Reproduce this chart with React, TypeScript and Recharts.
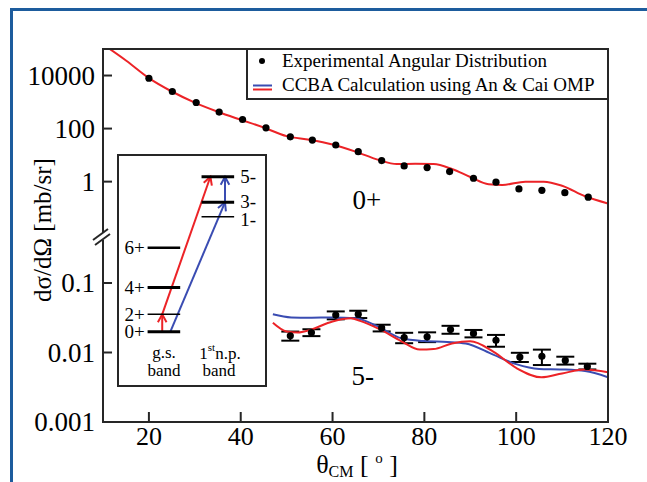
import React from 'react';
import {
  ComposedChart,
  Line,
  Scatter,
  XAxis,
  YAxis,
  ErrorBar,
  ReferenceDot,
  ReferenceLine,
} from 'recharts';

// 0+ (elastic) angular distribution
const zeroPlusAngles = [20, 25.1, 30.3, 35.3, 40.4, 45.5, 50.8, 55.6, 60.7, 65.6, 70.7, 75.6, 80.6, 85.5, 90.7, 95.6, 100.6, 105.6, 110.6, 115.7];
const zeroPlusExp = [7900, 2500, 960, 420, 220, 107, 49, 37, 24, 13.5, 6.2, 3.9, 3.4, 2.4, 1.34, 0.95, 0.53, 0.47, 0.385, 0.26];
const zeroPlusCalcAngles = [10, 15, 20, 25, 30, 35, 40, 45, 50, 55, 60, 65, 70, 74, 78, 82, 86, 90, 94, 97, 102, 106, 110, 115, 120];
const zeroPlusCalc = [150000, 37000, 8000, 2500, 950, 430, 215, 110, 52, 38, 25, 13.5, 6.6, 4.6, 4.7, 4.6, 3.0, 1.5, 0.8, 0.75, 1.0, 1.0, 0.7, 0.28, 0.15];

// 5- angular distribution
const fiveMinusAngles = [50.8, 55.4, 60.7, 65.6, 70.7, 75.6, 80.6, 85.7, 90.7, 95.6, 100.8, 105.6, 110.7, 115.5];
const fiveMinusExp = [0.0174, 0.0194, 0.0345, 0.0356, 0.0226, 0.0164, 0.0168, 0.0214, 0.0188, 0.015, 0.0086, 0.0088, 0.0077, 0.0063];
const fiveMinusErr = [0.0026, 0.0022, 0.0045, 0.0043, 0.0025, 0.0028, 0.0027, 0.0028, 0.0023, 0.0029, 0.0013, 0.0022, 0.001, 0.0006];
const fiveMinusBlueAngles = [47, 51, 55, 60, 65, 70, 75, 80, 85, 89, 95, 100, 105, 110, 115, 120];
const fiveMinusBlue = [0.0355, 0.032, 0.0317, 0.032, 0.031, 0.0235, 0.016, 0.0146, 0.0142, 0.0135, 0.0093, 0.0068, 0.0058, 0.0057, 0.0054, 0.0044];
const fiveMinusRedAngles = [47, 50, 52.5, 55, 60, 64, 66, 70, 75, 79, 82, 86, 90, 95, 100, 105.5, 110, 115, 120];
const fiveMinusRed = [0.0267, 0.02, 0.0194, 0.021, 0.028, 0.031, 0.0285, 0.022, 0.0145, 0.011, 0.0112, 0.0135, 0.0145, 0.0103, 0.006, 0.0044, 0.005, 0.0057, 0.0052];

const xTicks = [20, 40, 60, 80, 100, 120];
const upperTicks = [1, 100, 10000];
const lowerTicks = [0.001, 0.01, 0.1];

// level scheme for the inset (arbitrary energy units)
const gsLevels = ['0+', '2+', '4+', '6+'];
const gsEnergies = [0, 0.112, 0.286, 0.542];
const npLevels = ['1-', '3-', '5-'];
const npEnergies = [0.742, 0.835, 1.0];

const SERIF = '"Liberation Serif", "Times New Roman", serif';
const RED = '#ec2327';
const BLUE = '#3a4cb2';
const FRAME = '#262626';
const PAGE_BLUE = '#1d5c9d';

const TOP = 49;
const BREAK = 238;
const BOTTOM = 422;

const GS_X = 0.3075;
const NP_X = 0.677;

const zeroPlusPoints = zeroPlusAngles.map((x, i) => ({ x, y: zeroPlusExp[i] }));
const zeroPlusCurve = zeroPlusCalcAngles.map((x, i) => ({ x, y: zeroPlusCalc[i] }));
const fiveMinusPoints = fiveMinusAngles.map((x, i) => ({ x, y: fiveMinusExp[i], err: fiveMinusErr[i] }));
const fiveMinusBlueCurve = fiveMinusBlueAngles.map((x, i) => ({ x, y: fiveMinusBlue[i] }));
const fiveMinusRedCurve = fiveMinusRedAngles.map((x, i) => ({ x, y: fiveMinusRed[i] }));
const gsData = gsLevels.map((name, i) => ({ x: GS_X, y: gsEnergies[i], name }));
const npData = npLevels.map((name, i) => ({ x: NP_X, y: npEnergies[i], name }));

const levelWidth: Record<string, number> = { '0+': 3, '2+': 1.5, '4+': 3, '6+': 2.5, '1-': 1.5, '3-': 3, '5-': 3 };
// small nudges of the level labels, so that close lying labels don't collide
const labelNudge: Record<string, number> = { '1-': 3, '3-': -1 };

const dot = (p: any) => <circle cx={p.cx} cy={p.cy} r={3.6} fill="#000" />;

const levelShape = (side: 'left' | 'right') => (p: any) => {
  const { cx, cy, payload } = p;
  const half = 16.3;
  return (
    <g>
      <line x1={cx - half} x2={cx + half} y1={cy} y2={cy} stroke="#000" strokeWidth={levelWidth[payload.name]} />
      <text
        x={side === 'left' ? cx - half - 3 : cx + half + 6}
        y={cy + (labelNudge[payload.name] || 0)}
        dy="0.35em"
        textAnchor={side === 'left' ? 'end' : 'start'}
        fontSize={19}
        fontFamily={SERIF}
        fill="#000"
      >
        {payload.name}
      </text>
    </g>
  );
};

const arrowShape = (color: string) => (p: any) => {
  const { x1, y1, x2, y2 } = p;
  const ang = Math.atan2(y2 - y1, x2 - x1);
  const len = 9;
  const a1 = ang + Math.PI - 0.5;
  const a2 = ang + Math.PI + 0.5;
  const pts = `${x2 + len * Math.cos(a1)},${y2 + len * Math.sin(a1)} ${x2},${y2} ${x2 + len * Math.cos(a2)},${y2 + len * Math.sin(a2)}`;
  return (
    <g>
      <line x1={x1} y1={y1} x2={x2} y2={y2} stroke={color} strokeWidth={2} />
      <polyline points={pts} fill="none" stroke={color} strokeWidth={2} />
    </g>
  );
};

const renderYTick = (p: any) => (
  <text
    x={p.x}
    y={p.y}
    dy="0.35em"
    textAnchor="end"
    fill="#000"
    style={{ fontSize: '27px', fontFamily: SERIF }}
  >
    {p.payload.value}
  </text>
);

const renderXTick = (p: any) => (
  <text
    x={p.x}
    y={p.y}
    dy="0.72em"
    textAnchor="middle"
    fill="#000"
    style={{ fontSize: '26px', fontFamily: SERIF }}
  >
    {p.payload.value}
  </text>
);

const tickLine = { stroke: FRAME, strokeWidth: 2 };

const bandLabel: React.CSSProperties = {
  position: 'absolute',
  transform: 'translate(-50%, -50%)',
  fontSize: 17,
  lineHeight: '17px',
  textAlign: 'center',
  whiteSpace: 'nowrap',
};

const Inset = () => (
  <div
    style={{
      position: 'absolute',
      left: 117,
      top: 154,
      width: 150,
      height: 233,
      border: `2px solid ${FRAME}`,
      boxSizing: 'border-box',
      background: '#fff',
    }}
  >
    <ComposedChart width={146} height={229} margin={{ top: 0, right: 0, bottom: 0, left: 0 }}>
      <XAxis type="number" dataKey="x" domain={[0, 1]} hide />
      <YAxis type="number" dataKey="y" domain={[-0.344, 1.134]} hide />
      <Scatter data={gsData} dataKey="y" shape={levelShape('left')} isAnimationActive={false} />
      <Scatter data={npData} dataKey="y" shape={levelShape('right')} isAnimationActive={false} />
      <ReferenceLine
        segment={[{ x: 0.296, y: gsEnergies[0] }, { x: 0.296, y: gsEnergies[1] }]}
        shape={arrowShape(RED)}
        ifOverflow="visible"
      />
      <ReferenceLine
        segment={[{ x: 0.296, y: gsEnergies[1] }, { x: 0.626, y: npEnergies[2] }]}
        shape={arrowShape(RED)}
        ifOverflow="visible"
      />
      <ReferenceLine
        segment={[{ x: 0.352, y: gsEnergies[0] }, { x: 0.726, y: npEnergies[1] }]}
        shape={arrowShape(BLUE)}
        ifOverflow="visible"
      />
      <ReferenceLine
        segment={[{ x: 0.726, y: npEnergies[1] }, { x: 0.726, y: npEnergies[2] }]}
        shape={arrowShape(BLUE)}
        ifOverflow="visible"
      />
    </ComposedChart>
    <div style={{ ...bandLabel, left: 45, top: 196 }}>g.s.</div>
    <div style={{ ...bandLabel, left: 45, top: 213.5 }}>band</div>
    <div style={{ ...bandLabel, left: 101, top: 197 }}>
      1<sup style={{ fontSize: 11, lineHeight: 0, verticalAlign: '8px' }}>st</sup>n.p.
    </div>
    <div style={{ ...bandLabel, left: 100, top: 213.5 }}>band</div>
  </div>
);

export default function App() {
  return (
    <div
      style={{
        position: 'absolute',
        left: 0,
        top: 0,
        width: 647,
        height: 482,
        overflow: 'hidden',
        background: '#fff',
        fontFamily: SERIF,
        color: '#000',
      }}
    >
      <div
        style={{
          position: 'absolute',
          left: 10,
          top: 8,
          width: 700,
          height: 500,
          borderTop: `3px solid ${PAGE_BLUE}`,
          borderLeft: `3px solid ${PAGE_BLUE}`,
        }}
      />

      {/* upper part of the broken axis: 0+ */}
      <div style={{ position: 'absolute', left: 0, top: TOP }}>
        <ComposedChart width={647} height={BREAK - TOP} margin={{ top: 0, right: 39, bottom: 0, left: 0 }}>
          <XAxis dataKey="x" type="number" domain={[10, 120]} allowDataOverflow hide />
          <YAxis
            scale="log"
            type="number"
            domain={[0.0075, 100000]}
            allowDataOverflow
            ticks={upperTicks}
            interval={0}
            width={103}
            axisLine={false}
            tickSize={-9}
            tickMargin={17}
            tick={renderYTick}
            tickLine={tickLine}
          />
          <Scatter data={zeroPlusPoints} dataKey="y" shape={dot} isAnimationActive={false} />
          <Line
            data={zeroPlusCurve}
            dataKey="y"
            type="monotone"
            stroke={RED}
            strokeWidth={2}
            dot={false}
            isAnimationActive={false}
          />
          <ReferenceDot
            x={67.5}
            y={0.213}
            r={0}
            fill="none"
            stroke="none"
            label={{ value: '0+', position: 'center', fontSize: 27, fill: '#000', fontFamily: SERIF }}
          />
        </ComposedChart>
      </div>

      {/* lower part of the broken axis: 5- */}
      <div style={{ position: 'absolute', left: 0, top: BREAK }}>
        <ComposedChart width={647} height={BOTTOM - BREAK + 45} margin={{ top: 0, right: 39, bottom: 0, left: 0 }}>
          <XAxis
            dataKey="x"
            type="number"
            domain={[10, 120]}
            allowDataOverflow
            ticks={xTicks}
            interval={0}
            height={45}
            axisLine={false}
            tickSize={-10}
            tickMargin={14}
            tick={renderXTick}
            tickLine={tickLine}
          />
          <YAxis
            scale="log"
            type="number"
            domain={[0.001, 0.444]}
            allowDataOverflow
            ticks={lowerTicks}
            interval={0}
            width={103}
            axisLine={false}
            tickSize={-9}
            tickMargin={17}
            tick={renderYTick}
            tickLine={tickLine}
          />
          <Scatter data={fiveMinusPoints} dataKey="y" shape={dot} isAnimationActive={false}>
            <ErrorBar dataKey="err" direction="y" width={9} stroke="#000" strokeWidth={2} />
          </Scatter>
          <Line
            data={fiveMinusBlueCurve}
            dataKey="y"
            type="monotone"
            stroke={BLUE}
            strokeWidth={2}
            dot={false}
            isAnimationActive={false}
          />
          <Line
            data={fiveMinusRedCurve}
            dataKey="y"
            type="monotone"
            stroke={RED}
            strokeWidth={2}
            dot={false}
            isAnimationActive={false}
          />
          <ReferenceDot
            x={66.6}
            y={0.0047}
            r={0}
            fill="none"
            stroke="none"
            label={{ value: '5-', position: 'center', fontSize: 27, fill: '#000', fontFamily: SERIF }}
          />
        </ComposedChart>
      </div>

      {/* plot frame */}
      <div
        style={{
          position: 'absolute',
          left: 102,
          top: 48,
          width: 507,
          height: 375,
          border: `2px solid ${FRAME}`,
          boxSizing: 'border-box',
        }}
      />

      {/* axis break marks */}
      <svg style={{ position: 'absolute', left: 90, top: 224 }} width={24} height={26}>
        <rect x={11} y={9} width={5} height={7} fill="#fff" />
        <line x1={3} y1={16} x2={18} y2={5} stroke={FRAME} strokeWidth={2} />
        <line x1={5} y1={21} x2={20} y2={10} stroke={FRAME} strokeWidth={2} />
      </svg>

      <Inset />

      {/* legend */}
      <div
        style={{
          position: 'absolute',
          left: 246,
          top: 48,
          width: 363,
          height: 52,
          border: `2px solid ${FRAME}`,
          boxSizing: 'border-box',
          background: '#fff',
        }}
      >
        <svg width={359} height={48} style={{ position: 'absolute', left: 0, top: 0 }}>
          <circle cx={14} cy={11} r={3} fill="#000" />
          <line x1={5} y1={35.5} x2={24} y2={35.5} stroke={BLUE} strokeWidth={2} />
          <line x1={5} y1={39.5} x2={24} y2={39.5} stroke={RED} strokeWidth={2} />
          <text x={34} y={17} fontSize={19} fontFamily={SERIF} fill="#000">
            Experimental Angular Distribution
          </text>
          <text x={34} y={41} fontSize={19} fontFamily={SERIF} fill="#000">
            CCBA Calculation using An &amp; Cai OMP
          </text>
        </svg>
      </div>

      {/* axis titles */}
      <div
        style={{
          position: 'absolute',
          left: 42,
          top: 230,
          transform: 'translate(-50%, -50%) rotate(-90deg)',
          fontSize: 25,
          whiteSpace: 'nowrap',
          lineHeight: '25px',
        }}
      >
        dσ/dΩ [mb/sr]
      </div>
      <div
        style={{
          position: 'absolute',
          left: 357,
          top: 452,
          transform: 'translateX(-50%)',
          fontSize: 26,
          lineHeight: '26px',
          whiteSpace: 'nowrap',
        }}
      >
        θ<sub style={{ fontSize: 16, lineHeight: 0, verticalAlign: '-4px' }}>CM</sub> [{' '}
        <sup style={{ fontSize: 15, lineHeight: 0, verticalAlign: '10px' }}>o</sup> ]
      </div>
    </div>
  );
}
